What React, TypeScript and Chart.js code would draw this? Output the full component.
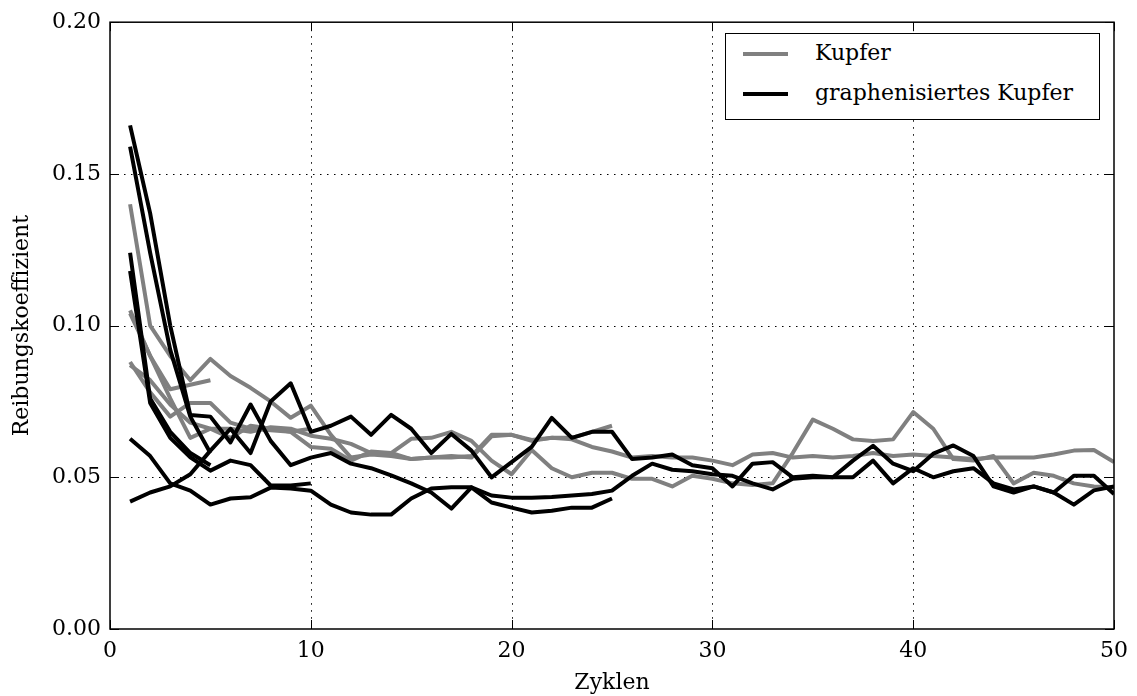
import React, { useEffect, useRef } from "react";
import { Chart, registerables } from "chart.js";

Chart.register(...registerables);

// Tick values / labels
const xTickValues = [0, 10, 20, 30, 40, 50];
const yTickValues = [0, 0.05, 0.1, 0.15, 0.2];
const xLabel = "Zyklen";
const yLabel = "Reibungskoeffizient";
const legendKupfer = "Kupfer";
const legendGraphen = "graphenisiertes Kupfer";

// Kupfer (grey) runs, values for cycle 1, 2, 3, ...
const kupferA = [0.140, 0.100, 0.090, 0.082, 0.089, 0.0834, 0.0795, 0.075, 0.0696, 0.0736, 0.064, 0.0565, 0.0575, 0.057, 0.056, 0.0565, 0.057, 0.0565, 0.0635, 0.064, 0.0623, 0.063, 0.063, 0.065, 0.067];
const kupferB = [0.105, 0.090, 0.079, 0.0805, 0.082];
const kupferC = [0.104, 0.090, 0.076, 0.063, 0.066, 0.066, 0.065, 0.0665, 0.066, 0.0637, 0.0627, 0.061, 0.058, 0.058, 0.0627, 0.063, 0.065, 0.062, 0.0555, 0.051, 0.059, 0.053, 0.050, 0.0515, 0.0515, 0.0495, 0.0495, 0.047, 0.0505, 0.0495, 0.048, 0.0475, 0.048, 0.058, 0.069, 0.066, 0.0625, 0.062, 0.0625, 0.0715, 0.066, 0.056, 0.0555, 0.057, 0.048, 0.0515, 0.0505, 0.048, 0.047, 0.0467];
const kupferD = [0.088, 0.078, 0.070, 0.0745, 0.0745, 0.068, 0.066, 0.0655, 0.065, 0.060, 0.0594, 0.0555, 0.0585, 0.058, 0.056, 0.0565, 0.0565, 0.057, 0.064, 0.064, 0.062, 0.063, 0.0625, 0.060, 0.0585, 0.0565, 0.057, 0.0565, 0.0565, 0.0555, 0.054, 0.0575, 0.058, 0.0565, 0.057, 0.0565, 0.057, 0.058, 0.057, 0.0575, 0.057, 0.0565, 0.056, 0.0565, 0.0565, 0.0565, 0.0575, 0.0588, 0.059, 0.055];
const kupferE = [0.087, 0.082, 0.074, 0.068, 0.066, 0.063, 0.067, 0.066, 0.065, 0.066];

// graphenisiertes Kupfer (black) runs
const graphenA = [0.042, 0.045, 0.047, 0.051, 0.0588, 0.066, 0.058, 0.075, 0.081, 0.065, 0.067, 0.070, 0.064, 0.0706, 0.066, 0.058, 0.0643, 0.0588, 0.050, 0.055, 0.060, 0.0696, 0.063, 0.065, 0.065, 0.056, 0.0565, 0.0575, 0.054, 0.053, 0.047, 0.0545, 0.055, 0.050, 0.0505, 0.050, 0.050, 0.0555, 0.048, 0.053, 0.050, 0.052, 0.053, 0.048, 0.046, 0.047, 0.045, 0.0505, 0.0505, 0.0445];
const graphenB = [0.166, 0.137, 0.100, 0.0705, 0.070, 0.0615, 0.074, 0.062, 0.054, 0.0565, 0.058, 0.0545, 0.053, 0.0506, 0.048, 0.045, 0.0397, 0.0467, 0.0417, 0.040, 0.0384, 0.039, 0.040, 0.040, 0.043];
const graphenC = [0.159, 0.124, 0.092, 0.070, 0.058];
const graphenD = [0.124, 0.076, 0.065, 0.058, 0.054];
const graphenE = [0.118, 0.0745, 0.063, 0.0566, 0.0522, 0.0555, 0.054, 0.0473, 0.0473, 0.048];
const graphenF = [0.0627, 0.057, 0.048, 0.0456, 0.041, 0.043, 0.0434, 0.0466, 0.0463, 0.0456, 0.041, 0.0384, 0.0377, 0.0377, 0.043, 0.0463, 0.0467, 0.0467, 0.044, 0.0433, 0.0433, 0.0435, 0.044, 0.0445, 0.0456, 0.0505, 0.0545, 0.0525, 0.052, 0.051, 0.0505, 0.048, 0.046, 0.0495, 0.050, 0.050, 0.0555, 0.0604, 0.0545, 0.052, 0.0578, 0.0605, 0.057, 0.047, 0.045, 0.047, 0.045, 0.041, 0.0457, 0.047];

const kupferRuns = [kupferA, kupferB, kupferC, kupferD, kupferE];
const graphenRuns = [graphenA, graphenB, graphenC, graphenD, graphenE, graphenF];

const GREY = "#808080";
const BLACK = "#000000";
const FONT = "'DejaVu Serif', 'Liberation Serif', serif";
const LINE_W = 4;

const toPoints = (vals: number[]) => vals.map((v, i) => ({ x: i + 1, y: v }));

const framePlugin = {
  id: "frameGrid",
  beforeDatasetsDraw(chart: any) {
    const { ctx, chartArea, scales } = chart;
    const { left, right, top, bottom } = chartArea;
    ctx.save();
    ctx.strokeStyle = "#000";
    ctx.lineWidth = 1;
    ctx.setLineDash([1.5, 5.5]);
    xTickValues.forEach((v) => {
      if (v <= xTickValues[0] || v >= xTickValues[xTickValues.length - 1]) return;
      const px = Math.round(scales.x.getPixelForValue(v)) + 0.5;
      ctx.beginPath();
      ctx.moveTo(px, top);
      ctx.lineTo(px, bottom);
      ctx.stroke();
    });
    yTickValues.forEach((v) => {
      if (v <= yTickValues[0] || v >= yTickValues[yTickValues.length - 1]) return;
      const py = Math.round(scales.y.getPixelForValue(v)) + 0.5;
      ctx.beginPath();
      ctx.moveTo(left, py);
      ctx.lineTo(right, py);
      ctx.stroke();
    });
    ctx.restore();
  },
  afterDatasetsDraw(chart: any) {
    const { ctx, chartArea, scales } = chart;
    const { left, right, top, bottom } = chartArea;
    ctx.save();
    ctx.setLineDash([]);
    ctx.strokeStyle = "#000";
    ctx.lineWidth = 1;
    const tl = 9;
    xTickValues.forEach((v) => {
      const px = Math.round(scales.x.getPixelForValue(v)) + 0.5;
      ctx.beginPath();
      ctx.moveTo(px, bottom);
      ctx.lineTo(px, bottom - tl);
      ctx.moveTo(px, top);
      ctx.lineTo(px, top + tl);
      ctx.stroke();
    });
    yTickValues.forEach((v) => {
      const py = Math.round(scales.y.getPixelForValue(v)) + 0.5;
      ctx.beginPath();
      ctx.moveTo(left, py);
      ctx.lineTo(left + tl, py);
      ctx.moveTo(right, py);
      ctx.lineTo(right - tl, py);
      ctx.stroke();
    });
    ctx.lineWidth = 1.5;
    ctx.strokeRect(left, top, right - left, bottom - top);
    ctx.restore();
  },
};

export default function App() {
  const canvasRef = useRef<HTMLCanvasElement | null>(null);

  useEffect(() => {
    if (!canvasRef.current) return;
    const datasets: any[] = [];
    graphenRuns.forEach((run, i) =>
      datasets.push({
        label: legendGraphen + " " + (i + 1),
        data: toPoints(run),
        borderColor: BLACK,
        backgroundColor: BLACK,
        borderWidth: LINE_W,
        pointRadius: 0,
        tension: 0,
        borderJoinStyle: "round",
        borderCapStyle: "butt",
        fill: false,
      })
    );
    kupferRuns.forEach((run, i) =>
      datasets.push({
        label: legendKupfer + " " + (i + 1),
        data: toPoints(run),
        borderColor: GREY,
        backgroundColor: GREY,
        borderWidth: LINE_W,
        pointRadius: 0,
        tension: 0,
        borderJoinStyle: "round",
        borderCapStyle: "butt",
        fill: false,
      })
    );

    const chart = new Chart(canvasRef.current, {
      type: "line",
      data: { datasets },
      options: {
        animation: false,
        responsive: false,
        maintainAspectRatio: false,
        layout: { padding: { left: 0, top: 20, right: 21, bottom: 0 } },
        plugins: {
          legend: { display: false },
          tooltip: { enabled: false },
        },
        scales: {
          x: {
            type: "linear",
            min: xTickValues[0],
            max: xTickValues[xTickValues.length - 1],
            afterBuildTicks: (scale: any) => {
              scale.ticks = xTickValues.map((v) => ({ value: v }));
            },
            afterFit: (scale: any) => {
              scale.height = 67;
            },
            grid: { display: false, drawTicks: false },
            border: { display: false },
            ticks: {
              color: "#000",
              padding: 9,
              maxRotation: 0,
              font: { family: FONT, size: 22 },
              callback: (v: any) => String(v),
            },
            title: {
              display: true,
              text: xLabel,
              color: "#000",
              font: { family: FONT, size: 22 },
              padding: { top: 0, bottom: 0 },
            },
          },
          y: {
            type: "linear",
            min: yTickValues[0],
            max: yTickValues[yTickValues.length - 1],
            afterBuildTicks: (scale: any) => {
              scale.ticks = yTickValues.map((v) => ({ value: v }));
            },
            afterFit: (scale: any) => {
              scale.width = 110;
            },
            grid: { display: false, drawTicks: false },
            border: { display: false },
            ticks: {
              color: "#000",
              padding: 9,
              font: { family: FONT, size: 22 },
              callback: (v: any) => Number(v).toFixed(2),
            },
            title: {
              display: true,
              text: yLabel,
              color: "#000",
              font: { family: FONT, size: 22 },
              padding: { top: 9, bottom: 0 },
            },
          },
        },
      } as any,
      plugins: [framePlugin],
    });
    return () => chart.destroy();
  }, []);

  const rowStyle = (top: number): React.CSSProperties => ({
    position: "absolute",
    left: 0,
    top,
    height: 0,
    width: "100%",
  });

  return (
    <div style={{ position: "fixed", left: 0, top: 0, width: 1137, height: 696, background: "#fff" }}>
      <canvas ref={canvasRef} width={1137} height={696} style={{ display: "block", width: 1137, height: 696 }} />
      <div
        style={{
          position: "absolute",
          left: 725,
          top: 33,
          width: 375,
          height: 87,
          boxSizing: "border-box",
          border: "1.5px solid #000",
          background: "#fff",
          fontFamily: FONT,
          fontSize: 22,
          color: "#000",
        }}
      >
        <div style={rowStyle(20)}>
          <div style={{ position: "absolute", left: 17, top: -2, width: 45, height: 4, background: GREY }} />
          <div style={{ position: "absolute", left: 89, top: -15, lineHeight: "28px", whiteSpace: "nowrap" }}>{legendKupfer}</div>
        </div>
        <div style={rowStyle(60)}>
          <div style={{ position: "absolute", left: 17, top: -2, width: 45, height: 4, background: BLACK }} />
          <div style={{ position: "absolute", left: 89, top: -15, lineHeight: "28px", whiteSpace: "nowrap" }}>{legendGraphen}</div>
        </div>
      </div>
    </div>
  );
}
